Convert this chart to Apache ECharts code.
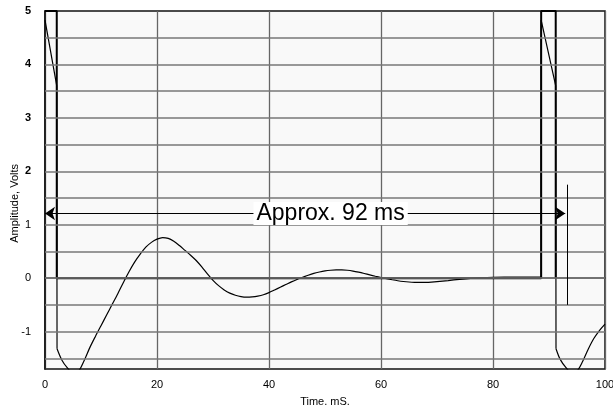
<!DOCTYPE html>
<html>
<head>
<meta charset="utf-8">
<script src="https://cdn.jsdelivr.net/npm/echarts@6/dist/echarts.min.js"></script>
<style>
  html, body { margin: 0; padding: 0; background: #fff; }
  #chart { width: 613px; height: 405px; }
</style>
</head>
<body>
<div id="chart"></div>
<script>
// Axis ranges and tick labels
const xRange = [0, 100];
const yRange = [-1.7, 5];
const yTickLabels = [-1, 0, 1, 2, 3, 4, 5];
const yGridLevels = [-1.5, -1, -0.5, 0, 0.5, 1, 1.5, 2, 2.5, 3, 3.5, 4, 4.5];

// Input pulse train (time ms, volts)
const inputWave = [
  [0, 5], [2.1, 5], [2.1, 0], [88.6, 0], [88.6, 5], [91.2, 5], [91.2, 0]
];

// Output response: straight edges/droop and the ringing between them (time ms, volts)
const outputEdge1 = [[0, 4.83], [2.1, 3.6], [2.15, -1.32]];
const outputRing1 = [
  [2.15, -1.32], [3, -1.53], [4, -1.68], [5, -1.78], [6, -1.74], [7, -1.54],
  [8, -1.3], [9, -1.09], [10, -0.89], [11, -0.69], [12, -0.49], [13, -0.29],
  [14, -0.08], [15, 0.12], [16, 0.3], [17, 0.45], [18, 0.58], [19, 0.67],
  [20, 0.73], [21, 0.76], [22, 0.745], [23, 0.69], [24, 0.61], [25, 0.52],
  [26, 0.43], [27, 0.33], [28, 0.21], [29, 0.08], [30, -0.04], [31, -0.14],
  [32, -0.22], [33, -0.28], [34, -0.32], [35, -0.345], [36, -0.355], [37, -0.35],
  [38, -0.335], [39, -0.31], [40, -0.27], [41, -0.22], [42, -0.17], [43, -0.12],
  [44, -0.07], [45, -0.025], [46, 0.015], [47, 0.055], [48, 0.09], [49, 0.115],
  [50, 0.135], [51, 0.148], [52, 0.155], [53, 0.155], [54, 0.148], [55, 0.133],
  [56, 0.112], [57, 0.088], [58, 0.062], [59, 0.036], [60, 0.012], [61, -0.01],
  [62, -0.03], [63, -0.048], [64, -0.062], [65, -0.072], [66, -0.078], [67, -0.08],
  [68, -0.079], [69, -0.074], [70, -0.066], [72, -0.045], [74, -0.022], [76, -0.003],
  [78, 0.01], [80, 0.016], [84, 0.02], [88.6, 0.02]
];
const outputEdge2 = [[88.6, 0.02], [88.6, 4.83], [91.2, 3.6], [91.25, -1.32]];
const outputRing2 = [
  [91.25, -1.32], [92, -1.52], [93, -1.67], [94, -1.77], [95, -1.74], [96, -1.56],
  [97, -1.33], [98, -1.13], [99, -0.98], [100, -0.86]
];

// Period annotation
const spanArrow = [[0, 1.21], [92.9, 1.21]];
const spanLabel = 'Approx. 92 ms';
const spanLabelAt = [51, 1.21];
const markerTick = [[93.3, 1.75], [93.3, -0.5]];

const FONT = '"Liberation Sans", Arial, sans-serif';
const chart = echarts.init(document.getElementById('chart'), null, { renderer: 'canvas' });

const straight = data => ({
  type: 'line', data, z: 4, showSymbol: false, silent: true,
  lineStyle: { color: '#000', width: 1.2 }
});
const curved = data => ({
  type: 'line', data, z: 4, showSymbol: false, silent: true,
  smooth: 0.3,
  lineStyle: { color: '#000', width: 1.2 }
});

chart.setOption({
  animation: false,
  backgroundColor: '#fff',
  textStyle: { fontFamily: FONT },
  grid: {
    left: 45, right: 8, top: 11, bottom: 36,
    outerBoundsMode: 'none', containLabel: false,
    show: true, backgroundColor: '#f9f9f9',
    borderColor: '#111', borderWidth: 1.5
  },
  xAxis: {
    type: 'value', min: xRange[0], max: xRange[1], interval: 20,
    name: 'Time, mS.', nameLocation: 'middle', nameGap: 27,
    nameTextStyle: { fontSize: 11, color: '#000', fontFamily: FONT },
    axisLine: { show: true, lineStyle: { color: '#333', width: 1.5 } },
    axisTick: { show: false },
    axisLabel: { fontSize: 11, color: '#000', margin: 10, fontFamily: FONT },
    splitLine: { show: true, lineStyle: { color: '#666', width: 1.3 } }
  },
  yAxis: {
    type: 'value', min: yRange[0], max: yRange[1],
    axisLine: { show: true, lineStyle: { color: '#111', width: 1.5 } },
    axisTick: { show: false },
    splitLine: { show: false },
    axisLabel: {
      customValues: yTickLabels, fontSize: 11, color: '#000', margin: 14, fontFamily: FONT,
      formatter: v => (v >= 2 ? '{b|' + v + '}' : '{n|' + v + '}'),
      rich: {
        b: { fontSize: 11, fontWeight: 'bold', color: '#000', fontFamily: FONT },
        n: { fontSize: 11, color: '#000', fontFamily: FONT }
      }
    }
  },
  graphic: [{
    type: 'text', left: 9, top: 164, rotation: Math.PI / 2,
    style: { text: 'Amplitude, Volts', fontSize: 11, fill: '#000', fontFamily: FONT }
  }],
  series: [
    {
      // horizontal grid lines
      type: 'line', data: [], z: 1, silent: true,
      markLine: {
        silent: true, symbol: 'none', label: { show: false },
        lineStyle: { color: '#777', width: 1.5, type: 'solid' },
        emphasis: { disabled: true },
        data: yGridLevels.map(v => ({ yAxis: v }))
      }
    },
    {
      type: 'line', data: inputWave, z: 3, showSymbol: false, silent: true,
      lineStyle: { color: '#000', width: 2 }
    },
    straight(outputEdge1),
    curved(outputRing1),
    straight(outputEdge2),
    curved(outputRing2),
    {
      type: 'line', data: [], z: 5, silent: true,
      markLine: {
        silent: true, label: { show: false }, emphasis: { disabled: true },
        lineStyle: { color: '#000', width: 1, type: 'solid' },
        data: [
          [{ coord: spanArrow[0], symbol: 'arrow', symbolSize: 10 },
           { coord: spanArrow[1], symbol: 'arrow', symbolSize: 10 }],
          [{ coord: markerTick[0], symbol: 'none' },
           { coord: markerTick[1], symbol: 'none' }]
        ]
      },
      markPoint: {
        silent: true, symbol: 'rect', symbolSize: 1,
        itemStyle: { color: 'transparent' },
        label: {
          show: true, position: 'inside', formatter: spanLabel,
          fontSize: 23, color: '#000', fontFamily: FONT,
          backgroundColor: '#fff', padding: [0, 3]
        },
        data: [{ coord: spanLabelAt }]
      }
    }
  ]
});
</script>
</body>
</html>
